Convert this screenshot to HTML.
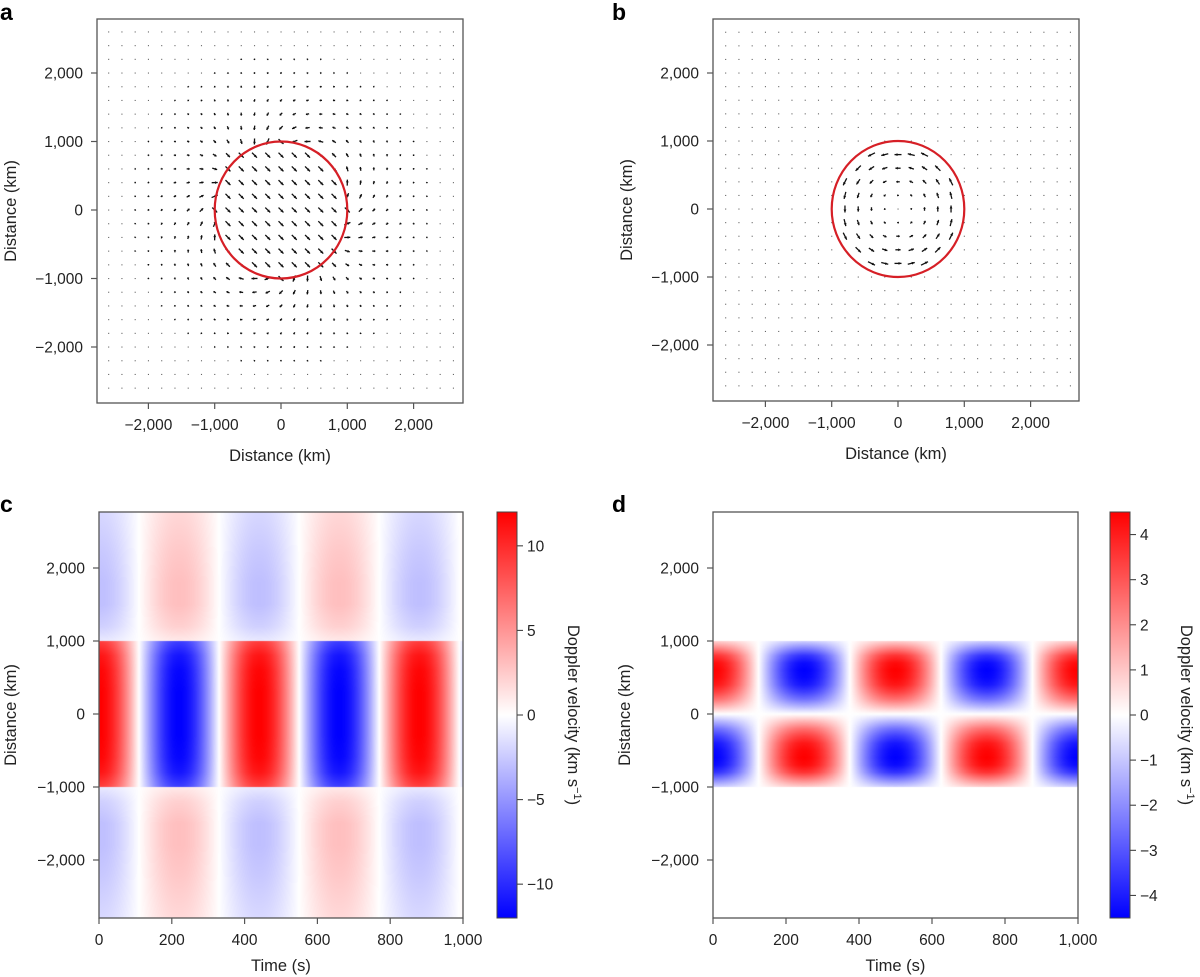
<!DOCTYPE html>
<html><head><meta charset="utf-8">
<style>
html,body{margin:0;padding:0;background:#fff;width:1200px;height:977px;overflow:hidden}
#root{position:relative;width:1200px;height:977px;font-family:"Liberation Sans",sans-serif}
svg{position:absolute;left:0;top:0}
canvas{position:absolute}
text{font-family:"Liberation Sans",sans-serif;fill:#222}
</style></head>
<body><div id="root">
<canvas id="hc" width="364" height="406" style="left:99px;top:512px"></canvas>
<canvas id="hd" width="365" height="406" style="left:713px;top:512px"></canvas>
<svg id="s" width="1200" height="977">
<defs><linearGradient id="bwr" x1="0" y1="1" x2="0" y2="0">
<stop offset="0" stop-color="#0000ff"/><stop offset="0.5" stop-color="#ffffff"/><stop offset="1" stop-color="#ff0000"/></linearGradient></defs>
</svg>
</div>
<script>
// ---- data ----
const distTicks = [2000, 1000, 0, -1000, -2000];
const distTickLabels = ["2,000", "1,000", "0", "\u22121,000", "\u22122,000"];
const timeTicks = [0, 200, 400, 600, 800, 1000];
const timeTickLabels = ["0", "200", "400", "600", "800", "1,000"];
const gridKm = [-2600,-2400,-2200,-2000,-1800,-1600,-1400,-1200,-1000,-800,-600,-400,-200,0,200,400,600,800,1000,1200,1400,1600,1800,2000,2200,2400,2600];
const circleRadiusKm = 1000;
const cbarCTicks = [10, 5, 0, -5, -10];
const cbarCLabels = ["10", "5", "0", "\u22125", "\u221210"];
const cbarDTicks = [4, 3, 2, 1, 0, -1, -2, -3, -4];
const cbarDLabels = ["4", "3", "2", "1", "0", "\u22121", "\u22122", "\u22123", "\u22124"];
const cMax = 12, dMax = 4.5;
const cPeriod = 440, dPeriod = 500;
const cInsideDist = [0, 300, 600, 800, 900, 1000];
const cInsideAmp = [12, 12, 11.7, 11, 10, 9];
const cOutsideDist = [1000, 1200, 1500, 1800, 2200, 2800];
const cOutsideAmp = [-1, -2.2, -3, -3, -2.6, -1.8];
const dDist = [0, 100, 200, 300, 400, 500, 600, 700, 800, 900, 1000];
const dAmp = [0, 1.3, 2.5, 3.4, 4.1, 4.4, 4.5, 4.3, 3.6, 2.2, 0.8];

const NS = "http://www.w3.org/2000/svg";
const svg = document.getElementById('s');
function el(tag, attrs, parent){const e=document.createElementNS(NS,tag);for(const k in attrs)e.setAttribute(k,attrs[k]);(parent||svg).appendChild(e);return e;}
function txt(x,y,s,size,anchor,name,extra){const t=el('text',Object.assign({x:x,y:y,'font-size':size,'text-anchor':anchor||'middle'},extra||{}));t.textContent=s;


return t;}
function interp(xs,ys,x){if(x<=xs[0])return ys[0];for(let i=1;i<xs.length;i++){if(x<=xs[i]){const f=(x-xs[i-1])/(xs[i]-xs[i-1]);return ys[i-1]+f*(ys[i]-ys[i-1]);}}return ys[ys.length-1];}

// axis helpers
function linScale(d0,d1,r0,r1){return v=>r0+(v-d0)/(d1-d0)*(r1-r0);}

function frame(b,name){const r=el('rect',{x:b.x0,y:b.y0,width:b.x1-b.x0,height:b.y1-b.y0,fill:'none',stroke:'#555','stroke-width':1.3});

}
function yAxis(b,Y,ticks,labels,pfx){ticks.forEach((v,i)=>{const y=Y(v);const l=el('line',{x1:b.x0-6,x2:b.x0,y1:y,y2:y,stroke:'#555','stroke-width':1.2});


txt(b.x0-14,y+5.5,labels[i],15.5,'end',pfx+'-y-tick-label');});}
function xAxis(b,X,ticks,labels,pfx){ticks.forEach((v,i)=>{const x=X(v);const l=el('line',{x1:x,x2:x,y1:b.y1,y2:b.y1+6,stroke:'#555','stroke-width':1.2});


txt(x,b.y1+27,labels[i],15.5,'middle',pfx+'-x-tick-label');});}

// ---------- quiver panels ----------
function arrow(x,y,dx,dy,name){
  const L=Math.hypot(dx,dy);
  if(L<1.3){const d=el('rect',{x:x-0.5,y:y-0.5,width:1.1,height:1.1,fill:'#666'});
    
    return;}
  const ux=dx/L,uy=dy/L;const x0=x-dx/2,y0=y-dy/2,x1=x+dx/2,y1=y+dy/2;
  const g=el('g',{});
  
  
  el('line',{x1:x0,y1:y0,x2:x1,y2:y1,stroke:'#111','stroke-width':1.3},g);
  const h=Math.min(3,L*0.45),w=1.4;
  el('polygon',{points:`${x1},${y1} ${x1-ux*h-uy*w},${y1-uy*h+ux*w} ${x1-ux*h+uy*w},${y1-uy*h-ux*w}`,fill:'#111'},g);
}
function quiverPanel(b,X,Y,field,pfx){
  frame(b,pfx+'-plot-frame');
  gridKm.forEach(gy=>gridKm.forEach(gx=>{const [u,v]=field(gx,gy);arrow(X(gx),Y(gy),u,-v,pfx+'-vector');}));
  const c=el('ellipse',{cx:X(0),cy:Y(0),rx:X(circleRadiusKm)-X(0),ry:Y(0)-Y(circleRadiusKm),fill:'none',stroke:'#d61f26','stroke-width':2.2});
  
  
  yAxis(b,Y,distTicks,distTickLabels,pfx);xAxis(b,X,distTicks,distTickLabels,pfx);
  txt((b.x0+b.x1)/2,b.y1+58,'Distance (km)',16.5,'middle',pfx+'-x-axis-title');
  txt(0,0,'Distance (km)',16.5,'middle',pfx+'-y-axis-title',{transform:`translate(${b.x0-81},${(b.y0+b.y1)/2}) rotate(-90)`});
}
// panel a
const bA={x0:97,x1:463,y0:19,y1:403};
const XA=linScale(0,1000,281,347.3),YA=linScale(0,1000,210,141.5);
const mA=[0.707,-0.707], lenA=7;
quiverPanel(bA,XA,YA,(x,y)=>{const r=Math.hypot(x,y);
  if(r<=circleRadiusKm)return [mA[0]*lenA,mA[1]*lenA];
  const rx=x/r,ry=y/r,d=mA[0]*rx+mA[1]*ry,s=lenA*(circleRadiusKm/r)**2;
  return [(2*d*rx-mA[0])*s,(2*d*ry-mA[1])*s];},'a');
// panel b
const bB={x0:713,x1:1079,y0:19,y1:401};
const XB=linScale(0,1000,898,964.3),YB=linScale(0,1000,209,141);
const omegaB=7/800;
quiverPanel(bB,XB,YB,(x,y)=>{const r=Math.hypot(x,y);if(r>=circleRadiusKm)return [0,0];return [-y*omegaB,x*omegaB];},'b');

// ---------- heatmaps ----------
function bwr(v,max){let f=Math.max(-1,Math.min(1,v/max));
  if(f>=0)return [255,Math.round(255*(1-f)),Math.round(255*(1-f))];
  return [Math.round(255*(1+f)),Math.round(255*(1+f)),255];}
function heat(id,b,X,Y,valueAt,max){
  const cv=document.getElementById(id),ctx=cv.getContext('2d');const W=cv.width,H=cv.height;
  const img=ctx.createImageData(W,H);
  const tOf=linScale(X(0),X(1000),0,1000),dOf=linScale(Y(0),Y(1000),0,1000);
  for(let j=0;j<H;j++){const d=dOf(b.y0+j+0.5);for(let i=0;i<W;i++){const t=tOf(b.x0+i+0.5);
    const c=bwr(valueAt(t,d),max);const k=(j*W+i)*4;img.data[k]=c[0];img.data[k+1]=c[1];img.data[k+2]=c[2];img.data[k+3]=255;}}
  ctx.putImageData(img,0,0);
}
function heatPanel(b,X,Y,pfx,cb,cbTicks,cbLabels,max){
  frame(b,pfx+'-plot-frame');
  yAxis(b,Y,distTicks,distTickLabels,pfx);xAxis(b,X,timeTicks,timeTickLabels,pfx);
  txt((b.x0+b.x1)/2,b.y1+53,'Time (s)',16.5,'middle',pfx+'-x-axis-title');
  txt(0,0,'Distance (km)',16.5,'middle',pfx+'-y-axis-title',{transform:`translate(${b.x0-83},${(b.y0+b.y1)/2}) rotate(-90)`});
  const r=el('rect',{x:cb,y:b.y0,width:20,height:b.y1-b.y0,fill:'url(#bwr)',stroke:'#444','stroke-width':1});
  
  
  const CY=linScale(-max,max,b.y1,b.y0);
  cbTicks.forEach((v,i)=>{const y=CY(v);const l=el('line',{x1:cb+20,x2:cb+26,y1:y,y2:y,stroke:'#444','stroke-width':1.1});
    
    
    txt(cb+30,y+5.5,cbLabels[i],15.5,'start',pfx+'-colorbar-tick-label');});
  const t=txt(0,0,'',16.5,'middle',pfx+'-colorbar-title',{transform:`translate(${cb+71},${(b.y0+b.y1)/2}) rotate(90)`});
  t.textContent='Doppler velocity (km s';const sp=el('tspan',{dy:-6,'font-size':11},t);sp.textContent='\u22121';const sp2=el('tspan',{dy:6},t);sp2.textContent=')';
}
const bC={x0:99,x1:463,y0:512,y1:918};
const XC=linScale(0,1000,99,463),YC=linScale(0,1000,714,641);
heat('hc',bC,XC,YC,(t,d)=>{const a=Math.abs(d);const amp=a<=1000?interp(cInsideDist,cInsideAmp,a):interp(cOutsideDist,cOutsideAmp,a);
  return amp*Math.cos(2*Math.PI*t/cPeriod);},cMax);
heatPanel(bC,XC,YC,'c',497,cbarCTicks,cbarCLabels,cMax);
const bD={x0:713,x1:1078,y0:512,y1:918};
const XD=linScale(0,1000,713,1078),YD=linScale(0,1000,714,641);
heat('hd',bD,XD,YD,(t,d)=>{const a=Math.abs(d);if(a>1000)return 0;return Math.sign(d)*interp(dDist,dAmp,a)*Math.cos(2*Math.PI*t/dPeriod);},dMax);
heatPanel(bD,XD,YD,'d',1110,cbarDTicks,cbarDLabels,dMax);

// panel letters
[['a',0,20],['b',612,20],['c',0,512],['d',612,512]].forEach(p=>{txt(p[1],p[2],p[0],23,'start','panel-label-'+p[0],{'font-weight':'bold',style:'fill:#000'});});
</script>
</body></html>
